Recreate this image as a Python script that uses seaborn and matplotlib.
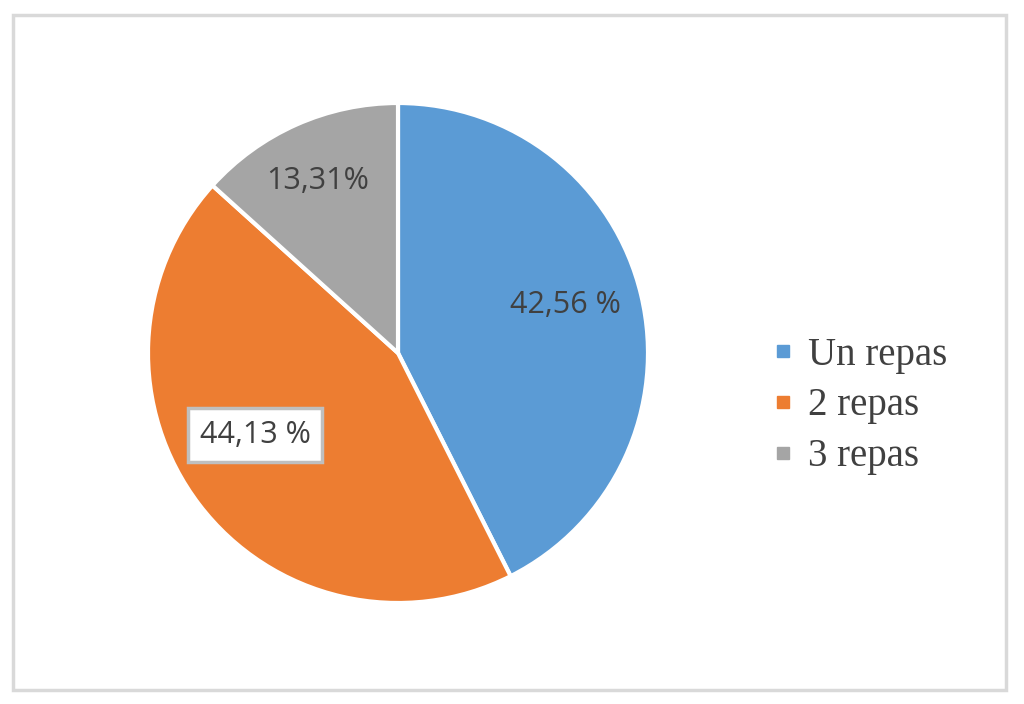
import matplotlib
matplotlib.use("Agg")
import matplotlib.pyplot as plt
import seaborn as sns
from matplotlib.lines import Line2D
from matplotlib.patches import Rectangle

# données du graphique
categories = ["Un repas", "2 repas", "3 repas"]
valeurs = [42.56, 44.13, 13.31]
etiquettes = ["42,56 %", "44,13 %", "13,31%"]
couleurs = ["#5B9BD5", "#ED7D31", "#A5A5A5"]

sns.set_theme(style="white")
plt.rcParams['font.family'] = ['Open Sans', 'DejaVu Sans']

fig = plt.figure(figsize=(10.24, 7.04), dpi=100)
fig.patch.set_facecolor("white")

# cadre gris clair autour de la figure
fig.patches.append(Rectangle((13 / 1024, 1 - 690 / 704), 993 / 1024, 675 / 704,
                             transform=fig.transFigure, fill=False,
                             edgecolor="#d9d9d9", linewidth=2.5))

# axe du camembert : rayon 250 px, centre (398, 353)
r_px = 250 * 1.05
ax = fig.add_axes([(398 - r_px) / 1024, 1 - (353 + r_px) / 704,
                   2 * r_px / 1024, 2 * r_px / 704])

wedges, _ = ax.pie(valeurs, colors=couleurs, startangle=90, counterclock=False,
                   wedgeprops=dict(edgecolor="white", linewidth=3))
ax.set_xlim(-1.05, 1.05)
ax.set_ylim(-1.05, 1.05)
ax.set_aspect("equal")

# étiquettes de pourcentage
positions = [(0.668, 0.192), (-0.572, -0.328), (-0.32, 0.688)]
for i, (txt, pos) in enumerate(zip(etiquettes, positions)):
    kw = dict(ha="center", va="center", fontsize=22, color="#404040")
    if i == 1:
        kw["bbox"] = dict(boxstyle="square,pad=0.38", facecolor="white",
                          edgecolor="#bfbfbf", linewidth=2.5)
    ax.text(pos[0], pos[1], txt, **kw)

# légende
handles = [Line2D([0], [0], marker="s", linestyle="none", markersize=9,
                  markerfacecolor=c, markeredgecolor=c) for c in couleurs]
fig.legend(handles, categories, loc="center left",
           bbox_to_anchor=(738 / 1024, 1 - 406 / 704), frameon=False,
           prop=dict(family="Liberation Serif", size=28), labelcolor="#404040",
           handlelength=0.5, handletextpad=0.4, labelspacing=0.35)

fig.savefig("out.png", dpi=100)
